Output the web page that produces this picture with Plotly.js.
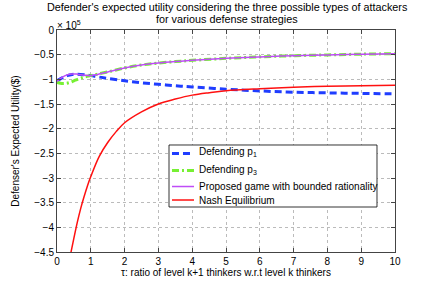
<!DOCTYPE html>
<html>
<head>
<meta charset="utf-8">
<script src="https://cdn.plot.ly/plotly-3.0.1.min.js"></script>
<style>html,body{margin:0;padding:0;background:#fff;}#chart{width:436px;height:284px;}</style>
</head>
<body>
<div id="chart"></div>
<script>
// values in units of 10^5 $
const tauBlue = [0, 0.15, 0.3, 0.45, 0.6, 0.8, 1.0, 1.25, 1.5, 2, 2.5, 3, 3.5, 4, 5, 6, 7, 8, 9, 10];
const defendingP1 = [-1.03, -0.97, -0.925, -0.90, -0.895, -0.905, -0.925, -0.955, -0.98, -1.03, -1.07, -1.10, -1.13, -1.155, -1.20, -1.235, -1.26, -1.275, -1.285, -1.295];

const tauGreen = [0, 0.1, 0.2, 0.35, 0.5, 0.65, 0.8, 1.0, 1.2, 1.5, 2, 2.5, 3, 3.5, 4, 5, 6, 7, 8, 9, 10];
const defendingP3 = [-1.06, -1.08, -1.085, -1.07, -1.03, -0.99, -0.955, -0.925, -0.895, -0.85, -0.77, -0.71, -0.67, -0.64, -0.615, -0.575, -0.545, -0.52, -0.505, -0.49, -0.48];

const tauPurple = [0, 0.15, 0.3, 0.45, 0.6, 0.8, 1.0, 1.2, 1.5, 2, 2.5, 3, 3.5, 4, 5, 6, 7, 8, 9, 10];
const proposedGame = [-1.04, -0.96, -0.91, -0.89, -0.895, -0.915, -0.925, -0.90, -0.85, -0.77, -0.71, -0.67, -0.64, -0.615, -0.575, -0.545, -0.52, -0.505, -0.49, -0.48];

const tauRed = [0.40, 0.5, 0.6, 0.7, 0.8, 0.9, 1.0, 1.25, 1.5, 1.75, 2.0, 2.5, 3.0, 3.5, 4.0, 4.5, 5.0, 6.0, 7.0, 8.0, 9.0, 10];
const nashEq = [-4.55, -4.22, -3.90, -3.62, -3.38, -3.16, -2.97, -2.56, -2.28, -2.06, -1.88, -1.66, -1.50, -1.40, -1.32, -1.27, -1.23, -1.19, -1.16, -1.14, -1.13, -1.12];

const seriesNames = ['Defending p<sub>1</sub>', 'Defending p<sub>3</sub>', 'Proposed game with bounded rationality', 'Nash Equilibrium'];
const seriesColors = ['#1f3dff', '#77f033', '#bf4cf7', '#ff1010'];
const seriesDash = ['7px,4px', '7px,3px,2px,3px', 'solid', 'solid'];
const seriesWidth = [3, 3, 1.5, 1.5];

const xTicks = [0,1,2,3,4,5,6,7,8,9,10];
const yTicks = [0,-0.5,-1,-1.5,-2,-2.5,-3,-3.5,-4,-4.5];
const yTickText = ['0','−0.5','−1','−1.5','−2','−2.5','−3','−3.5','−4','−4.5'];

const titleLines = ["Defender's expected utility considering the three possible types of attackers", "for various defense strategies"];

const font = {family: 'Liberation Sans, Arial, sans-serif', size: 10, color: '#000'};
const titleFont = {family: 'Liberation Sans, Arial, sans-serif', size: 10.8, color: '#000'};

const xs = [tauBlue, tauGreen, tauPurple, tauRed];
const ys = [defendingP1, defendingP3, proposedGame, nashEq];
const traces = xs.map((x, i) => ({
  x: x, y: ys[i], mode: 'lines', name: seriesNames[i], showlegend: false,
  line: {color: seriesColors[i], width: seriesWidth[i], dash: seriesDash[i], shape: 'spline'}
}));

const axisCommon = {
  showline: true, linecolor: '#444', linewidth: 1, mirror: 'ticks',
  ticks: 'inside', ticklen: 4, tickcolor: '#444',
  showgrid: true, gridcolor: '#bbb', griddash: 'dot', gridwidth: 1,
  zeroline: false, tickfont: font
};

// legend box (paper coordinates), drawn as layout decoration
const legBox = {x0: 0.3314, x1: 0.9467, y0: 0.2027, y1: 0.482};
const legRowsY = [0.4437, 0.3671, 0.2950, 0.2342];
const legSymX = [0.3402, 0.4053];
const legTextX = 0.4142;

const shapes = [{type: 'rect', xref: 'paper', yref: 'paper', x0: legBox.x0, x1: legBox.x1, y0: legBox.y0, y1: legBox.y1,
                 line: {color: '#000', width: 0.8}, fillcolor: '#fff', layer: 'above'}];
const annotations = [];
seriesNames.forEach((name, i) => {
  shapes.push({type: 'line', xref: 'paper', yref: 'paper', x0: legSymX[0], x1: legSymX[1], y0: legRowsY[i], y1: legRowsY[i],
               line: {color: seriesColors[i], width: seriesWidth[i], dash: seriesDash[i]}, layer: 'above'});
  annotations.push({text: name, xref: 'paper', yref: 'paper', x: legTextX, y: legRowsY[i], xanchor: 'left', yanchor: 'middle',
                    showarrow: false, font: font, yshift: i < 2 ? 1 : 0});
});
annotations.push({text: titleLines[0], xref: 'paper', yref: 'paper', x: 0.503, y: 1.1036, xanchor: 'center', yanchor: 'middle', showarrow: false, font: titleFont});
annotations.push({text: titleLines[1], xref: 'paper', yref: 'paper', x: 0.503, y: 1.0495, xanchor: 'center', yanchor: 'middle', showarrow: false, font: titleFont});
annotations.push({text: '× 10<sup>5</sup>', xref: 'paper', yref: 'paper', x: 0, y: 1, xanchor: 'left', yanchor: 'bottom',
                  showarrow: false, font: font, yshift: -3, xshift: -2});

const layout = {
  width: 436, height: 284,
  margin: {l: 57, r: 41, t: 30, b: 32},
  paper_bgcolor: '#fff', plot_bgcolor: '#fff',
  font: font,
  xaxis: Object.assign({}, axisCommon, {
    range: [0, 10], tickvals: xTicks, ticktext: xTicks.map(String),
    title: {text: 'τ: ratio of level k+1 thinkers w.r.t level k thinkers', font: font, standoff: 2}
  }),
  yaxis: Object.assign({}, axisCommon, {
    range: [-4.5, 0], tickvals: yTicks, ticktext: yTickText,
    title: {text: "Defenser's Expected Utility($)", font: font, standoff: 12}
  }),
  showlegend: false,
  shapes: shapes,
  annotations: annotations
};

Plotly.newPlot('chart', traces, layout, {displayModeBar: false, staticPlot: true});
</script>
</body>
</html>
